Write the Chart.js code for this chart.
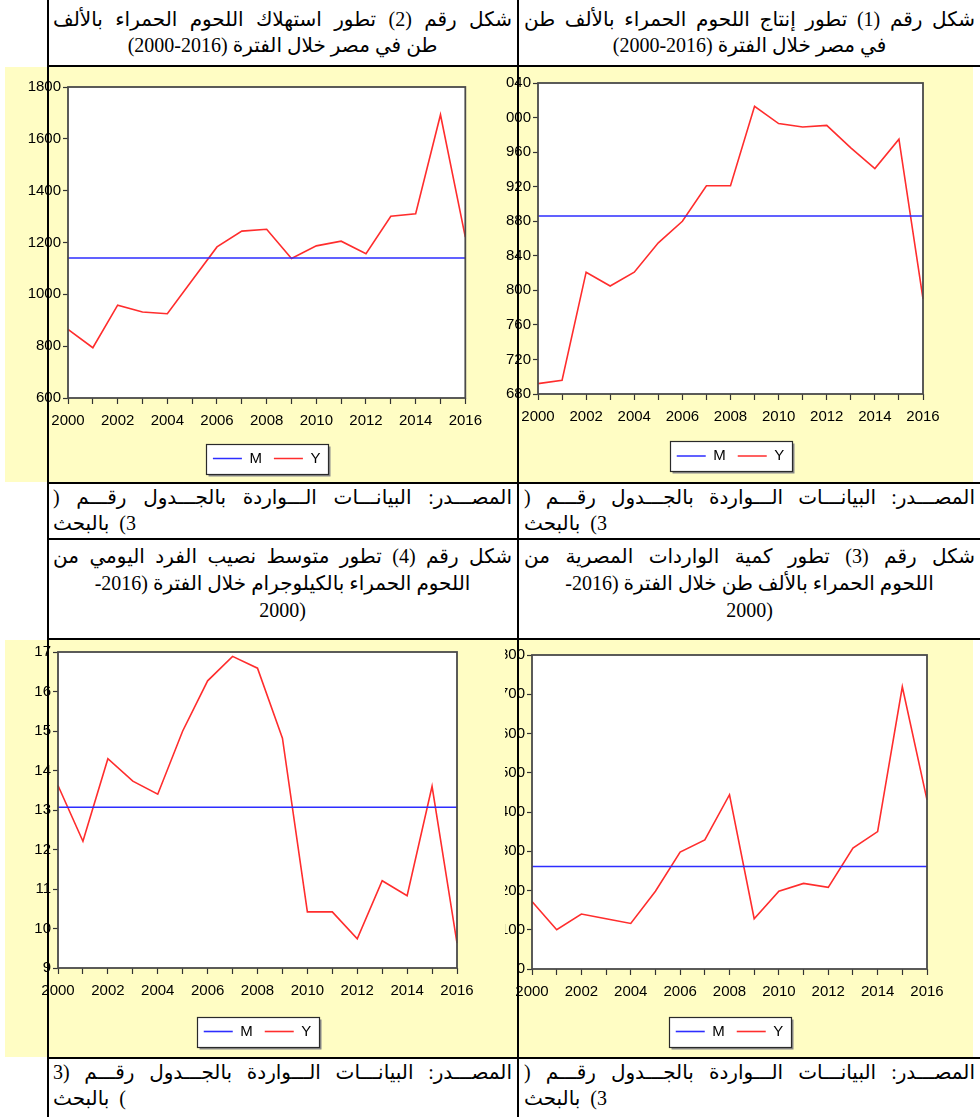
<!DOCTYPE html>
<html><head><meta charset="utf-8">
<script src="https://cdn.jsdelivr.net/npm/chart.js@4.4.1/dist/chart.umd.min.js"></script>
<style>
html,body{margin:0;padding:0;background:#fff;}
body{width:980px;height:1117px;position:relative;overflow:hidden;font-family:"Liberation Serif","DejaVu Sans",serif;color:#000;}
.yel{position:absolute;background:#FFFDC4;z-index:0;}
.hl{position:absolute;height:2px;background:#000;z-index:5;}
.vl{position:absolute;width:2px;background:#000;z-index:5;}
.cell{position:absolute;font-size:20px;line-height:26px;z-index:4;}
.cell div{white-space:nowrap;}
.j{text-align:justify;text-align-last:justify;}
.c{text-align:center;}
.l{text-align:left;}
.clip{position:absolute;overflow:hidden;z-index:2;}
.clip canvas{position:absolute;top:0;}
</style></head>
<body>
<div class="yel" style="left:5px;top:67px;width:968px;height:415px"></div>
<div class="yel" style="left:5px;top:640px;width:968px;height:417px"></div>

<div class="clip" style="left:5px;top:67px;width:485px;height:415px"><canvas id="c1" width="485" height="415" style="left:0"></canvas></div>
<div class="clip" style="left:506px;top:67px;width:467px;height:415px"><canvas id="c2" width="497" height="415" style="left:-30px"></canvas></div>
<div class="clip" style="left:5px;top:640px;width:485px;height:417px"><canvas id="c4" width="485" height="417" style="left:0"></canvas></div>
<div class="clip" style="left:505px;top:640px;width:468px;height:417px"><canvas id="c3" width="498" height="417" style="left:-30px"></canvas></div>

<div class="vl" style="left:47px;top:0;height:1117px"></div>
<div class="vl" style="left:517px;top:0;height:1117px"></div>
<div class="hl" style="left:47px;top:65px;width:933px"></div>
<div class="hl" style="left:47px;top:482px;width:933px"></div>
<div class="hl" style="left:47px;top:538px;width:933px"></div>
<div class="hl" style="left:47px;top:638px;width:933px"></div>
<div class="hl" style="left:47px;top:1057px;width:933px"></div>

<!-- row 1 headers -->
<div class="cell" style="left:524px;top:6px;width:451px">
  <div class="j" dir="rtl">شكل رقم (1) تطور إنتاج اللحوم الحمراء بالألف طن</div>
  <div class="c" dir="rtl">في مصر خلال الفترة (2016-2000)</div>
</div>
<div class="cell" style="left:53px;top:6px;width:459px">
  <div class="j" dir="rtl">شكل رقم (2) تطور استهلاك اللحوم الحمراء بالألف</div>
  <div class="c" dir="rtl">طن في مصر خلال الفترة (2016-2000)</div>
</div>
<!-- row 1 sources -->
<div class="cell" style="left:524px;top:484px;width:451px">
  <div class="j" dir="rtl">المصـــدر: البيانـــات الـــواردة بالجـــدول رقـــم (</div>
  <div class="l" dir="rtl">3)&nbsp; بالبحث</div>
</div>
<div class="cell" style="left:53px;top:484px;width:459px">
  <div class="j" dir="rtl">المصـــدر: البيانـــات الـــواردة بالجـــدول رقـــم (</div>
  <div class="l" dir="rtl">3)&nbsp; بالبحث</div>
</div>
<!-- row 2 headers -->
<div class="cell" style="left:524px;top:543px;width:451px;line-height:27px">
  <div class="j" dir="rtl">شكل رقم (3) تطور كمية الواردات المصرية من</div>
  <div class="c" dir="rtl">اللحوم الحمراء بالألف طن خلال الفترة (2016-</div>
  <div class="c" dir="rtl">(2000</div>
</div>
<div class="cell" style="left:53px;top:543px;width:459px;line-height:27px">
  <div class="j" dir="rtl">شكل رقم (4) تطور متوسط نصيب الفرد اليومي من</div>
  <div class="c" dir="rtl">اللحوم الحمراء بالكيلوجرام خلال الفترة (2016-</div>
  <div class="c" dir="rtl">(2000</div>
</div>
<!-- row 2 sources -->
<div class="cell" style="left:524px;top:1059px;width:451px">
  <div class="j" dir="rtl">المصـــدر: البيانـــات الـــواردة بالجـــدول رقـــم (</div>
  <div class="l" dir="rtl">3)&nbsp; بالبحث</div>
</div>
<div class="cell" style="left:53px;top:1059px;width:459px">
  <div class="j" dir="rtl">المصـــدر: البيانـــات الـــواردة بالجـــدول رقـــم (3</div>
  <div class="l" dir="rtl">)&nbsp; بالبحث</div>
</div>

<script>
// ---------- data ----------
const years = ['2000','2001','2002','2003','2004','2005','2006','2007','2008','2009','2010','2011','2012','2013','2014','2015','2016'];
const xLabelYears = ['2000','2002','2004','2006','2008','2010','2012','2014','2016'];
const seriesNames = ['M', 'Y'];

// Figure 1: production (thousand tons)
const productionY = [692, 696, 821, 805, 821, 855, 880, 921, 921, 1013, 993, 989, 991, 965, 941, 975, 790];
const productionM = [886, 886, 886, 886, 886, 886, 886, 886, 886, 886, 886, 886, 886, 886, 886, 886, 886];
const productionTicks = [680, 720, 760, 800, 840, 880, 920, 960, 1000, 1040];

// Figure 2: consumption (thousand tons)
const consumptionY = [865, 794, 958, 932, 925, 1054, 1183, 1244, 1251, 1138, 1187, 1205, 1157, 1301, 1311, 1693, 1221];
const consumptionM = [1140, 1140, 1140, 1140, 1140, 1140, 1140, 1140, 1140, 1140, 1140, 1140, 1140, 1140, 1140, 1140, 1140];
const consumptionTicks = [600, 800, 1000, 1200, 1400, 1600, 1800];

// Figure 3: imports (thousand tons)
const importsY = [172, 100, 140, 128, 116, 198, 298, 329, 444, 128, 198, 218, 208, 308, 350, 719, 431];
const importsM = [261, 261, 261, 261, 261, 261, 261, 261, 261, 261, 261, 261, 261, 261, 261, 261, 261];
const importsTicks = [0, 100, 200, 300, 400, 500, 600, 700, 800];

// Figure 4: daily per-capita share (kg)
const perCapitaY = [13.62, 12.21, 14.30, 13.73, 13.40, 15.0, 16.27, 16.89, 16.59, 14.82, 10.42, 10.42, 9.74, 11.21, 10.83, 13.60, 9.63];
const perCapitaM = [13.07, 13.07, 13.07, 13.07, 13.07, 13.07, 13.07, 13.07, 13.07, 13.07, 13.07, 13.07, 13.07, 13.07, 13.07, 13.07, 13.07];
const perCapitaTicks = [9, 10, 11, 12, 13, 14, 15, 16, 17];

// ---------- layout (absolute page coordinates) ----------
const LEG_FONT = 15, LEG_PAD = 12;
const LEG_H = LEG_FONT + LEG_PAD + 10;
const LEG_CENTER_OFF = LEG_PAD + LEG_FONT / 2;

const framePlugin = {
  id: 'eviewsFrame',
  beforeDraw(chart) {
    const {ctx, chartArea: a} = chart;
    ctx.save();
    ctx.fillStyle = '#ffffff';
    ctx.fillRect(a.left, a.top, a.right - a.left, a.bottom - a.top);
    const lg = chart.legend;
    if (lg && lg.legendHitBoxes && lg.legendHitBoxes.length) {
      const hb = lg.legendHitBoxes;
      const first = hb[0], last = hb[hb.length - 1];
      const cy = first.top + LEG_FONT / 2;
      const x0 = Math.round(first.left - 7) + 0.5;
      const x1 = Math.round(last.left + last.width + 8) + 0.5;
      const y0 = Math.round(cy - 15) + 0.5;
      const y1 = Math.round(cy + 15) + 0.5;
      ctx.fillStyle = '#8a8a8a';
      ctx.fillRect(x0 + 2, y0 + 2, x1 - x0, y1 - y0);
      ctx.fillStyle = '#ffffff';
      ctx.fillRect(x0, y0, x1 - x0, y1 - y0);
      ctx.strokeStyle = '#2a2a2a';
      ctx.lineWidth = 1.2;
      ctx.strokeRect(x0, y0, x1 - x0, y1 - y0);
    }
    ctx.restore();
  },
  afterDraw(chart) {
    const {ctx, chartArea: a} = chart;
    ctx.save();
    ctx.strokeStyle = '#4a4a4a';
    ctx.lineWidth = 1.8;
    ctx.strokeRect(a.left, a.top, a.right - a.left, a.bottom - a.top);
    ctx.restore();
  }
};

function makeChart(id, geo, yVals, mVals, ticks, labelPad) {
  const padTop = geo.plotTop - geo.top;
  const padRight = geo.left + geo.width - geo.plotRight;
  const yW = geo.plotLeft - geo.left;
  const legTop = geo.legendY - LEG_CENTER_OFF;
  const xH = legTop - geo.plotBottom;
  const padBottom = geo.top + geo.height - (legTop + LEG_H);
  const tickFont = {family: '"Liberation Sans", Arial, sans-serif', size: 15};
  return new Chart(document.getElementById(id), {
    type: 'line',
    data: {
      labels: years,
      datasets: [
        {label: seriesNames[0], data: mVals, borderColor: 'rgb(45,45,255)', borderWidth: 1.6, pointRadius: 0, tension: 0, pointStyle: 'line'},
        {label: seriesNames[1], data: yVals, borderColor: 'rgb(255,45,45)', borderWidth: 1.6, pointRadius: 0, tension: 0, pointStyle: 'line'}
      ]
    },
    options: {
      responsive: false,
      animation: false,
      devicePixelRatio: 1,
      events: [],
      layout: {padding: {top: padTop, right: padRight, bottom: padBottom, left: 0}},
      plugins: {
        tooltip: {enabled: false},
        legend: {
          position: 'bottom',
          fullSize: false,
          align: 'center',
          labels: {
            usePointStyle: true, pointStyle: 'line', pointStyleWidth: 29,
            padding: LEG_PAD, color: '#000',
            font: {family: '"Liberation Sans", Arial, sans-serif', size: LEG_FONT}
          }
        }
      },
      scales: {
        x: {
          type: 'category',
          offset: false,
          border: {display: false},
          grid: {display: true, drawOnChartArea: false, drawTicks: true, tickLength: 6, tickColor: '#333', tickWidth: 1.2, offset: false},
          ticks: {
            autoSkip: false, maxRotation: 0, minRotation: 0, padding: 8, color: '#000', font: tickFont,
            callback: function (v) { const s = this.getLabelForValue(v); return xLabelYears.includes(s) ? s : ''; }
          },
          afterFit: s => { s.height = xH; }
        },
        y: {
          type: 'linear',
          min: ticks[0], max: ticks[ticks.length - 1],
          border: {display: false},
          grid: {display: true, drawOnChartArea: false, drawTicks: true, tickLength: 5, tickColor: '#333', tickWidth: 1.2},
          ticks: {padding: labelPad, color: '#000', font: tickFont, callback: v => String(v)},
          afterBuildTicks: s => { s.ticks = ticks.map(v => ({value: v})); },
          afterFit: s => { s.width = yW; }
        }
      }
    },
    plugins: [framePlugin]
  });
}

makeChart('c1', {left: 5, top: 67, width: 485, height: 415, plotLeft: 68, plotRight: 466, plotTop: 87, plotBottom: 398, legendY: 458.5}, consumptionY, consumptionM, consumptionTicks, 2);
makeChart('c2', {left: 476, top: 67, width: 497, height: 415, plotLeft: 538, plotRight: 923, plotTop: 83, plotBottom: 394, legendY: 456}, productionY, productionM, productionTicks, 2);
makeChart('c4', {left: 5, top: 640, width: 485, height: 417, plotLeft: 58, plotRight: 457, plotTop: 652, plotBottom: 968, legendY: 1031.5}, perCapitaY, perCapitaM, perCapitaTicks, 2);
makeChart('c3', {left: 475, top: 640, width: 498, height: 417, plotLeft: 532, plotRight: 927, plotTop: 655, plotBottom: 969, legendY: 1031.5}, importsY, importsM, importsTicks, 2);
</script>
</body></html>
